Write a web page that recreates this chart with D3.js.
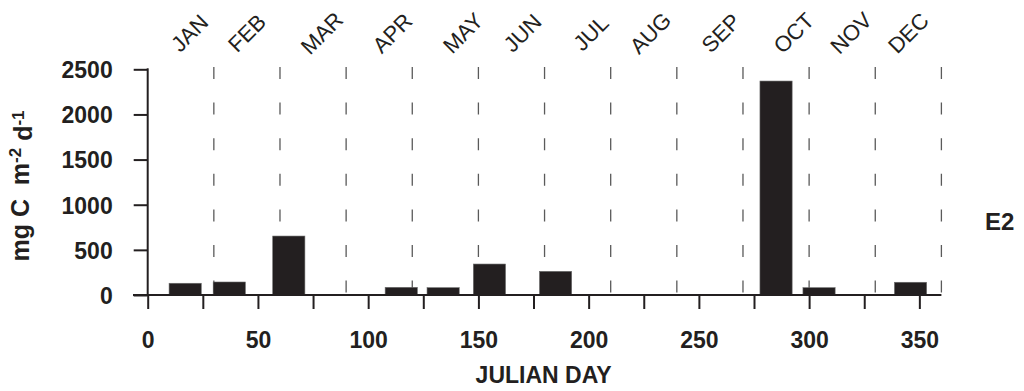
<!DOCTYPE html>
<html>
<head>
<meta charset="utf-8">
<script src="https://cdn.jsdelivr.net/npm/d3@7"></script>
<style>
  html, body { margin: 0; padding: 0; background: #fff; }
  svg { display: block; font-family: "Liberation Sans", Arial, Helvetica, sans-serif; }
</style>
</head>
<body>
<svg id="chart" width="1024" height="391"></svg>
<script>
// Monthly primary production at station E2
const months = ["JAN", "FEB", "MAR", "APR", "MAY", "JUN", "JUL", "AUG", "SEP", "OCT", "NOV", "DEC"];
// Julian day at which each month name is written above the plot
const monthLabelDay = [19, 45, 79, 111, 143, 170, 201, 228, 260, 293, 319, 345];
// Month boundaries (30-day months)
const monthBounds = [30, 60, 90, 120, 150, 180, 210, 240, 270, 300, 330, 360];
// Sampling day (Julian) and production (mg C m-2 d-1)
const sampleDay = [17, 37, 64, 115, 134, 155, 185, 285, 304.5, 346];
const production = [130, 144, 653, 85, 81, 343, 262, 2370, 81, 141];
const yTicks = [0, 500, 1000, 1500, 2000, 2500];
const xTicks = [0, 25, 50, 75, 100, 125, 150, 175, 200, 225, 250, 275, 300, 325, 350];
const xLabels = [0, 50, 100, 150, 200, 250, 300, 350];
const station = "E2";

const ink = "#231f20";
const svg = d3.select("#chart");

const x = d3.scaleLinear().domain([0, 360]).range([147.7, 941.4]);
const y = d3.scaleLinear().domain([0, 2500]).range([295, 69.3]);
const barDays = 14.6;

// dashed month separators
svg.append("g").selectAll("line").data(monthBounds).join("line")
  .attr("x1", d => x(d)).attr("x2", d => x(d))
  .attr("y1", 67).attr("y2", y(0))
  .attr("stroke", "#5a5a5a").attr("stroke-width", 1.3)
  .attr("stroke-dasharray", "12,23.6");

// bars
svg.append("g").selectAll("rect").data(sampleDay).join("rect")
  .attr("x", d => x(d - barDays / 2))
  .attr("width", d => x(d + barDays / 2) - x(d - barDays / 2))
  .attr("y", (d, i) => y(production[i]))
  .attr("height", (d, i) => y(0) - y(production[i]))
  .attr("fill", ink).attr("stroke", "#6a6a6a").attr("stroke-width", 0.6);

// y axis
const yAxis = svg.append("g").attr("transform", `translate(${x(0)},0)`)
  .call(d3.axisLeft(y).tickValues(yTicks).tickSize(14).tickPadding(21).tickSizeOuter(0)
    .tickFormat(d3.format("d")));
yAxis.select(".domain").remove();
yAxis.append("line").attr("x1", 0).attr("x2", 0).attr("y1", y(2500) - 1).attr("y2", y(0))
  .attr("stroke", ink).attr("stroke-width", 2);
yAxis.selectAll(".tick line").attr("stroke", ink).attr("stroke-width", 2);
yAxis.selectAll(".tick text").attr("fill", ink)
  .style("font-size", "23px").style("font-weight", "bold").attr("dy", "0.36em");

// x axis
const xAxis = svg.append("g").attr("transform", `translate(0,${y(0)})`)
  .call(d3.axisBottom(x).tickValues(xTicks).tickSize(14).tickSizeOuter(0)
    .tickFormat(d => xLabels.includes(d) ? d : ""));
xAxis.select(".domain").remove();
xAxis.append("line").attr("x1", x(0) - 14.7).attr("x2", x(360)).attr("y1", 0).attr("y2", 0)
  .attr("stroke", ink).attr("stroke-width", 2);
xAxis.selectAll(".tick line").attr("stroke", ink).attr("stroke-width", 2);
xAxis.selectAll(".tick text").attr("fill", ink).attr("y", 53).attr("dy", null)
  .style("font-size", "23px").style("font-weight", "bold");

// month names, set on a 45-degree slant
svg.append("g").selectAll("text").data(months).join("text")
  .attr("transform", (d, i) => `translate(${x(monthLabelDay[i])},33) rotate(-45)`)
  .attr("text-anchor", "middle").attr("dy", "0.35em")
  .attr("fill", ink).style("font-size", "22px")
  .text(d => d);

// axis titles
svg.append("text").attr("x", x(180) - 1).attr("y", 383)
  .attr("text-anchor", "middle").attr("fill", ink)
  .style("font-size", "23px").style("font-weight", "bold")
  .text("JULIAN DAY");

const yTitle = svg.append("text")
  .attr("transform", "translate(28.5,186) rotate(-90)")
  .attr("text-anchor", "middle").attr("fill", ink)
  .style("font-size", "25px").style("font-weight", "bold");
yTitle.append("tspan").text("mg C\u00a0\u00a0m");
yTitle.append("tspan").attr("dy", "-0.45em").style("font-size", "17px").text("-2");
yTitle.append("tspan").attr("dy", "0.45em").text("\u00a0d");
yTitle.append("tspan").attr("dy", "-0.45em").style("font-size", "17px").text("-1");

// station tag
svg.append("text").attr("x", 985).attr("y", 230).attr("fill", ink)
  .style("font-size", "24px").style("font-weight", "bold")
  .text(station);
</script>
</body>
</html>
